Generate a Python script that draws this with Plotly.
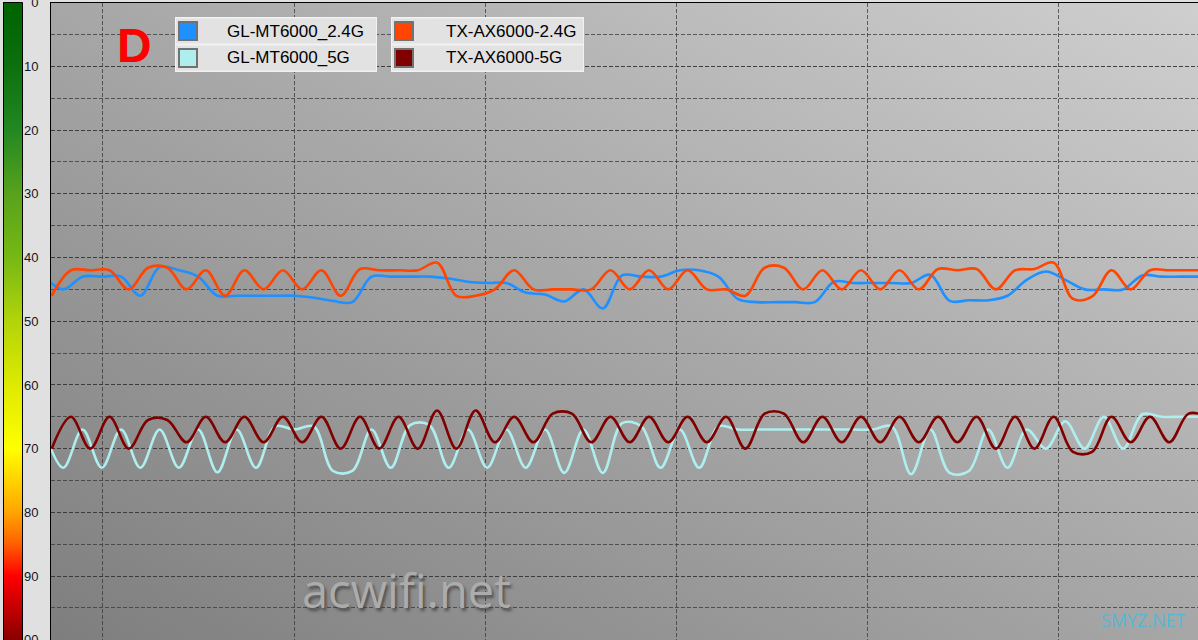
import base64
import plotly.graph_objects as go

W, H = 1198, 640

# ---------------- data ----------------
series_names = ["GL-MT6000_2.4G", "GL-MT6000_5G", "TX-AX6000-2.4G", "TX-AX6000-5G"]
series_colors = ["#1e90ff", "#afeeee", "#ff4500", "#800000"]

# sample index (time) of each reading; the GL router was sampled ~0.6 sample later
tx_time = list(range(0, 61))
gl_time = [k + 0.6 for k in range(-1, 60)]

gl_24 = [43, 45, 43, 43, 43, 46, 41.5, 42, 43, 46,
         46, 46, 46, 46, 46.3, 46.8, 47, 43, 43, 43,
         43, 43.3, 43.8, 44, 44, 45.5, 45.8, 46.9, 45, 48,
         42.8, 43, 43, 42, 42, 43, 46.5, 47, 47, 47,
         47, 43.8, 44, 44, 44, 44, 42.7, 46.8, 46.7, 46.7,
         46, 43.5, 42.2, 43.5, 45, 45, 45, 42.8, 43, 43,
         43]

gl_5 = [67, 73, 67, 73, 67, 73, 67, 73, 67, 73.7,
        67, 73, 66.5, 67, 66.5, 73.5, 73.5, 67, 73, 66.3,
        66.3, 73, 67, 73, 67, 73, 67, 73.8, 67, 73.8,
        66, 66.5, 73, 67, 73, 66.5, 67, 67, 67, 67,
        67, 67, 67, 67, 66.5, 74, 67, 73.8, 73.5, 67,
        73, 67, 70, 65.7, 70, 65, 70, 64.6, 65, 65,
        65]

tx_24 = [46, 42, 42, 42, 45, 41.6, 41.6, 45, 42, 46,
         42, 45, 42, 45, 42, 46, 41.8, 42, 42, 42,
         40.8, 46, 46, 45, 42, 45, 45, 45, 45, 42,
         45, 42, 45, 42, 45, 45, 46, 41.6, 41.6, 45,
         42, 45, 42, 45, 42, 45, 41.8, 42, 41.8, 45,
         42, 41.8, 40.8, 46.5, 46.1, 42, 45, 42, 42, 42,
         42]

tx_5 = [70, 65, 70, 65, 70, 65.5, 65.5, 69, 65, 69,
        65, 69, 65, 69, 65, 70, 65, 70, 65, 70,
        64, 70, 64, 69, 65, 69, 64.5, 64.5, 69, 65,
        69, 65, 69, 65, 69, 65, 70, 64.5, 64.5, 69,
        65, 69, 65, 69, 65, 69, 65, 69, 65, 70,
        65, 70, 65, 70.5, 70.5, 65, 69, 65, 69, 64.5,
        65]

y_ticks = [0, 10, 20, 30, 40, 50, 60, 70, 80, 90, 100]
y_tick_labels = [str(v) for v in y_ticks]

panel_label = "D"
watermark = "acwifi.net"
watermark2 = "SMYZ.NET"

# ---------------- helpers ----------------
def px(x):
    return x / W


def py(y):
    return 1 - y / H


def svg_uri(svg):
    return "data:image/svg+xml;base64," + base64.b64encode(svg.encode()).decode()


bg_svg = (
    '<svg xmlns="http://www.w3.org/2000/svg" width="100" height="100" '
    'viewBox="0 0 100 100" preserveAspectRatio="none"><defs>'
    '<linearGradient id="g" x1="0" y1="1" x2="1" y2="0">'
    '<stop offset="0" stop-color="rgb(126,126,126)"/>'
    '<stop offset="1" stop-color="rgb(207,207,207)"/>'
    '</linearGradient></defs><rect width="100" height="100" fill="url(#g)"/></svg>'
)

bar_stops = [
    (0.0, "rgb(0,98,0)"), (0.1, "rgb(12,112,14)"), (0.2, "rgb(34,136,34)"),
    (0.3, "rgb(88,162,28)"), (0.4, "rgb(118,184,20)"), (0.5, "rgb(178,212,10)"),
    (0.6, "rgb(222,234,0)"), (0.7, "rgb(255,255,0)"), (0.8, "rgb(255,165,0)"),
    (0.85, "rgb(255,95,0)"), (0.9, "rgb(255,0,0)"), (1.0, "rgb(136,0,0)"),
]
bar_svg = (
    '<svg xmlns="http://www.w3.org/2000/svg" width="20" height="100" '
    'viewBox="0 0 20 100" preserveAspectRatio="none"><defs>'
    '<linearGradient id="c" x1="0" y1="0" x2="0" y2="1">'
    + "".join(f'<stop offset="{o}" stop-color="{c}"/>' for o, c in bar_stops)
    + '</linearGradient></defs><rect width="20" height="100" fill="url(#c)"/></svg>'
)

# ---------------- figure ----------------
fig = go.Figure()

trace_data = [
    (gl_time, gl_24, 0),
    (gl_time, gl_5, 1),
    (tx_time, tx_24, 2),
    (tx_time, tx_5, 3),
]
for xs, ys, i in trace_data:
    fig.add_trace(go.Scatter(
        x=xs, y=ys, mode="lines", name=series_names[i],
        line=dict(color=series_colors[i], width=2.6, shape="spline", smoothing=1.0),
        hoverinfo="skip", showlegend=False,
    ))

grid_col = "rgba(55,55,55,0.75)"
fig.update_layout(
    width=W, height=H, autosize=False,
    margin=dict(l=0, r=0, t=0, b=0, autoexpand=False),
    paper_bgcolor="#e0e0e0",
    plot_bgcolor="rgba(0,0,0,0)",
    showlegend=False,
    xaxis=dict(
        domain=[px(51), 1], range=[-0.036, 59.49], automargin=False,
        side="top", showline=True, linecolor="black", linewidth=1,
        showgrid=True, gridcolor=grid_col, gridwidth=1, griddash="4px,2px",
        tick0=2.662, dtick=9.922, showticklabels=False, ticks="",
        zeroline=False, fixedrange=True,
    ),
    yaxis=dict(
        domain=[0, py(2.5)], range=[100.03, -0.03], automargin=False,
        showline=True, linecolor="black", linewidth=1,
        tickmode="array", tickvals=y_ticks, ticktext=y_tick_labels,
        ticks="", ticklabelstandoff=9, ticklabeloverflow="allow",
        tickfont=dict(family="Liberation Sans, Arial", size=13, color="#15151f"),
        showgrid=True, gridcolor=grid_col, gridwidth=1, griddash="4px,2px",
        minor=dict(dtick=5, tick0=0, showgrid=True, gridcolor=grid_col,
                   gridwidth=1, griddash="4px,2px", ticks=""),
        zeroline=False, fixedrange=True,
    ),
)

fig.add_layout_image(dict(
    source=svg_uri(bg_svg), xref="paper", yref="paper",
    x=px(51), y=py(2.5), sizex=px(1198) - px(51), sizey=py(2.5) - py(640),
    xanchor="left", yanchor="top", sizing="stretch", layer="below",
))
fig.add_layout_image(dict(
    source=svg_uri(bar_svg), xref="paper", yref="paper",
    x=px(3), y=py(2), sizex=px(22) - px(3), sizey=py(2) - py(640),
    xanchor="left", yanchor="top", sizing="stretch", layer="above",
))

shapes = [
    dict(type="rect", xref="paper", yref="paper",
         x0=px(3.5), x1=px(22.5), y0=py(2.5), y1=py(641),
         line=dict(color="black", width=1), fillcolor="rgba(0,0,0,0)"),
]

# legend blocks
legend_boxes = [(175, 377, 225), (391, 584, 444)]
rows = [(18, 44, 31), (45, 71, 58)]
legend_order = [[0, 1], [2, 3]]
annotations = []
for b, (bx0, bx1, tx0) in enumerate(legend_boxes):
    shapes.append(dict(type="rect", xref="paper", yref="paper",
                       x0=px(bx0), x1=px(bx1), y0=py(17), y1=py(72),
                       line=dict(width=0), fillcolor="#f2f2f2", layer="above"))
    for r, (ry0, ry1, rcy) in enumerate(rows):
        idx = legend_order[b][r]
        shapes.append(dict(type="rect", xref="paper", yref="paper",
                           x0=px(bx0 + 1), x1=px(bx1 - 1), y0=py(ry0 + 0.5), y1=py(ry1 - 0.5),
                           line=dict(width=0), fillcolor="#e2e2e2", layer="above"))
        shapes.append(dict(type="rect", xref="paper", yref="paper",
                           x0=px(bx0 + 4), x1=px(bx0 + 22), y0=py(rcy - 9), y1=py(rcy + 9),
                           line=dict(color="#727272", width=2),
                           fillcolor=series_colors[idx], layer="above"))
        annotations.append(dict(
            x=px(tx0), y=py(rcy), xref="paper", yref="paper",
            text=series_names[idx], showarrow=False, xanchor="left", yanchor="middle",
            font=dict(family="Liberation Sans, Arial", size=17, color="black"),
        ))

annotations.append(dict(
    x=px(134), y=py(45), xref="paper", yref="paper", text="<b>" + panel_label + "</b>",
    showarrow=False, xanchor="center", yanchor="middle",
    font=dict(family="Liberation Sans, Arial", size=48, color="#ff0000"),
))
annotations.append(dict(
    x=px(407), y=py(590), xref="paper", yref="paper", text=watermark,
    showarrow=False, xanchor="center", yanchor="middle",
    font=dict(family="Open Sans", size=47, color="rgb(172,172,172)",
              shadow="2px 3px 3px rgba(60,60,60,0.75)"),
))
annotations.append(dict(
    x=px(1143), y=py(620), xref="paper", yref="paper", text=watermark2,
    showarrow=False, xanchor="center", yanchor="middle",
    font=dict(family="Open Sans", size=18, color="rgba(80,185,215,0.95)"),
))

fig.update_layout(shapes=shapes, annotations=annotations)

fig.write_html(
    "out.html",
    config={"displayModeBar": False, "staticPlot": True},
    post_script="document.body.style.margin='0px';document.body.style.overflow='hidden';",
)
